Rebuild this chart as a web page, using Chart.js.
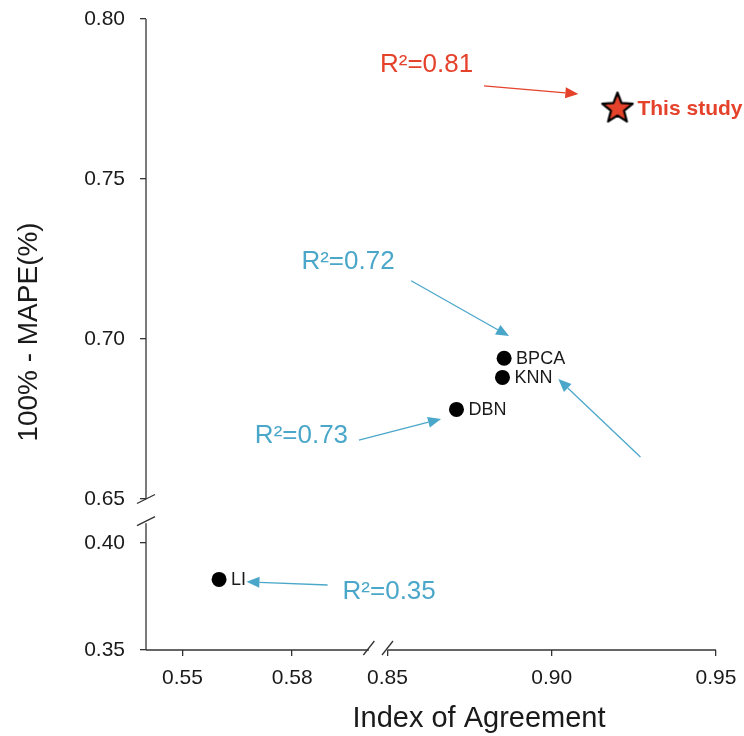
<!DOCTYPE html>
<html>
<head>
<meta charset="utf-8">
<script src="https://cdn.jsdelivr.net/npm/chart.js@4"></script>
<style>
  body { margin: 0; background: #fff; }
  #wrap { width: 744px; height: 736px; }
</style>
</head>
<body>
<div id="wrap"><canvas id="grafico"></canvas></div>
<script>
// Dados =====================================================================

const methods = ["LI", "DBN", "KNN", "BPCA"];
const agreement = [0.56, 0.871, 0.885, 0.8855];
const mapeScore = [0.383, 0.678, 0.688, 0.694];

const studyLabel = "This study";
const studyAgreement = [0.92];
const studyMapeScore = [0.772];

const r2Values = [0.81, 0.72, 0.73, 0.35];

const xLowTicks = [0.55, 0.58];
const xHighTicks = [0.85, 0.9, 0.95];
const yLowTicks = [0.35, 0.4];
const yHighTicks = [0.65, 0.7, 0.75, 0.8];

// Estilo ====================================================================

const FONT = "'Liberation Sans', Arial, sans-serif";
const RED = "#e5422b";
const BLUE = "#4ba7c9";
const AXIS = "#333";

// anotações em coordenadas dos eixos (r2 = índice em r2Values)
const notes = [
  { r2: 0, color: RED, x: "xHigh", y: "yHigh", tx: 0.8477, ty: 0.7834, align: "left", from: [0.8794, 0.7791], to: [0.9081, 0.7766] },
  { r2: 1, color: BLUE, x: "xHigh", y: "yHigh", tx: 0.8238, ty: 0.7219, align: "left", from: [0.8572, 0.7182], to: [0.887, 0.7009] },
  { r2: 2, color: BLUE, x: "xHigh", y: "yHigh", tx: 0.838, ty: 0.6675, align: "right", from: [0.8413, 0.6684], to: [0.8663, 0.675] },
  { r2: 3, color: BLUE, x: "xLow", y: "yLow", tx: 0.5938, ty: 0.3738, align: "left", from: [0.5897, 0.3804], to: [0.5675, 0.3819] },
  { r2: null, color: BLUE, x: "xHigh", y: "yHigh", from: [0.927, 0.6631], to: [0.902, 0.6875] },
];

const lowPts = [];
const highPts = [];
methods.forEach((m, i) => {
  const p = { x: agreement[i], y: mapeScore[i], label: m };
  (agreement[i] < 0.7 ? lowPts : highPts).push(p);
});

function makeStar(r, fill) {
  const c = document.createElement("canvas");
  const size = Math.ceil(r * 2 + 4);
  c.width = size;
  c.height = size;
  const g = c.getContext("2d");
  g.beginPath();
  for (let k = 0; k < 10; k++) {
    const rad = k % 2 ? r * 0.43 : r;
    const a = -Math.PI / 2 + (k * Math.PI) / 5;
    g.lineTo(size / 2 + rad * Math.cos(a), size / 2 + rad * Math.sin(a));
  }
  g.closePath();
  g.fillStyle = fill;
  g.fill();
  g.lineWidth = 2.2;
  g.lineJoin = "round";
  g.strokeStyle = "#000";
  g.stroke();
  return c;
}

function arrow(ctx, x1, y1, x2, y2, color) {
  const a = Math.atan2(y2 - y1, x2 - x1);
  const len = 13, half = 5.5;
  const bx = x2 - len * Math.cos(a), by = y2 - len * Math.sin(a);
  ctx.strokeStyle = color;
  ctx.fillStyle = color;
  ctx.lineWidth = 1.3;
  ctx.beginPath();
  ctx.moveTo(x1, y1);
  ctx.lineTo(bx, by);
  ctx.stroke();
  ctx.beginPath();
  ctx.moveTo(x2, y2);
  ctx.lineTo(bx + half * Math.sin(a), by - half * Math.cos(a));
  ctx.lineTo(bx - half * Math.sin(a), by + half * Math.cos(a));
  ctx.closePath();
  ctx.fill();
}

function line(ctx, x1, y1, x2, y2) {
  ctx.beginPath();
  ctx.moveTo(x1, y1);
  ctx.lineTo(x2, y2);
  ctx.stroke();
}

// eixos quebrados, títulos, rótulos e setas
const decor = {
  id: "decor",
  afterDraw(chart) {
    const ctx = chart.ctx;
    const s = chart.scales;
    ctx.save();

    // linhas dos eixos
    ctx.strokeStyle = AXIS;
    ctx.lineWidth = 1.3;
    const ax = s.yHigh.right;
    const yTop = s.yHigh.getPixelForValue(0.8);
    const yBrk1 = s.yHigh.getPixelForValue(0.65);
    const yBrk2 = s.yLow.getPixelForValue(0.4093);
    const yBot = s.yLow.getPixelForValue(0.35);
    line(ctx, ax, yTop, ax, yBrk1);
    line(ctx, ax, yBrk2, ax, yBot);
    const xBrk1 = s.xLow.getPixelForValue(0.601);
    const xBrk2 = s.xHigh.getPixelForValue(0.85);
    const xEnd = s.xHigh.getPixelForValue(0.95);
    line(ctx, ax, yBot, xBrk1, yBot);
    line(ctx, xBrk2, yBot, xEnd, yBot);

    // marcas de quebra
    line(ctx, ax - 9, yBrk1 + 4.5, ax + 9, yBrk1 - 4.5);
    line(ctx, ax - 9, yBrk2 + 2.5, ax + 9, yBrk2 - 6.5);
    line(ctx, xBrk1 - 5.5, yBot + 5, xBrk1 + 5.5, yBot - 9);
    line(ctx, xBrk2 - 5.5, yBot + 5, xBrk2 + 5.5, yBot - 9);

    // títulos dos eixos
    ctx.fillStyle = "#1a1a1a";
    ctx.textAlign = "center";
    ctx.textBaseline = "alphabetic";
    ctx.font = "29px " + FONT;
    ctx.fillText("Index of Agreement", 479, 727);
    ctx.save();
    ctx.font = "28px " + FONT;
    ctx.translate(37, 332);
    ctx.rotate(-Math.PI / 2);
    ctx.fillText("100% - MAPE(%)", 0, 0);
    ctx.restore();

    // rótulos dos pontos
    ctx.font = "18px " + FONT;
    ctx.textAlign = "left";
    ctx.textBaseline = "middle";
    [0, 1].forEach((d) => {
      chart.getDatasetMeta(d).data.forEach((el, i) => {
        ctx.fillText(chart.data.datasets[d].data[i].label, el.x + 12, el.y + 1);
      });
    });
    const star = chart.getDatasetMeta(2).data[0];
    ctx.fillStyle = RED;
    ctx.font = "bold 21px " + FONT;
    ctx.fillText(studyLabel, star.x + 20, star.y + 1);

    // anotações R²
    notes.forEach((n) => {
      const sx = s[n.x], sy = s[n.y];
      if (n.r2 !== null) {
        ctx.fillStyle = n.color;
        ctx.font = "26px " + FONT;
        ctx.textAlign = n.align;
        ctx.textBaseline = "alphabetic";
        ctx.fillText("R²=" + r2Values[n.r2].toFixed(2), sx.getPixelForValue(n.tx), sy.getPixelForValue(n.ty));
      }
      arrow(ctx,
        sx.getPixelForValue(n.from[0]), sy.getPixelForValue(n.from[1]),
        sx.getPixelForValue(n.to[0]), sy.getPixelForValue(n.to[1]), n.color);
    });

    ctx.restore();
  },
};

function axis(pos, stack, weight, min, max, ticks, pad) {
  return {
    type: "linear",
    position: pos,
    stack: stack,
    stackWeight: weight,
    min: min,
    max: max,
    afterBuildTicks: (sc) => {
      sc.ticks = ticks.map((v) => ({ value: v }));
    },
    afterFit: (sc) => {
      if (pos === "left") {
        sc.width = 62;
        sc.paddingTop = 0;
        sc.paddingBottom = 0;
      } else {
        sc.height = 50;
        sc.paddingLeft = 0;
        sc.paddingRight = 0;
      }
    },
    border: { display: false },
    grid: { drawOnChartArea: false, drawTicks: true, tickLength: 6, color: AXIS, lineWidth: 1.3 },
    ticks: {
      font: { family: FONT, size: 21 },
      color: "#1a1a1a",
      padding: pad,
      autoSkip: false,
      maxRotation: 0,
      callback: (v) => Number(v).toFixed(2),
    },
  };
}

const data = {
  datasets: [
    {
      label: "LI",
      data: lowPts,
      xAxisID: "xLow",
      yAxisID: "yLow",
      backgroundColor: "#000",
      borderWidth: 0,
      pointRadius: 7.5,
    },
    {
      label: "Methods",
      data: highPts,
      xAxisID: "xHigh",
      yAxisID: "yHigh",
      backgroundColor: "#000",
      borderWidth: 0,
      pointRadius: 7.5,
    },
    {
      label: studyLabel,
      data: studyAgreement.map((v, i) => ({ x: v, y: studyMapeScore[i] })),
      xAxisID: "xHigh",
      yAxisID: "yHigh",
      pointStyle: makeStar(16, RED),
      pointRadius: 16,
    },
  ],
};

const config = {
  type: "scatter",
  data: data,
  options: {
    responsive: true,
    maintainAspectRatio: false,
    animation: false,
    layout: { padding: { left: 84, right: 28, top: 19, bottom: 36 } },
    plugins: { legend: { display: false }, tooltip: { enabled: false } },
    scales: {
      xLow: axis("bottom", "x", 241.5, 0.54, 0.6061, xLowTicks, 10),
      xHigh: axis("bottom", "x", 328.5, 0.85, 0.95, xHighTicks, 10),
      yLow: axis("left", "y", 151, 0.35, 0.4206, yLowTicks, 15),
      yHigh: axis("left", "y", 480, 0.65, 0.8, yHighTicks, 15),
    },
  },
  plugins: [decor],
};

const grafico = new Chart(document.getElementById("grafico"), config);
</script>
</body>
</html>
